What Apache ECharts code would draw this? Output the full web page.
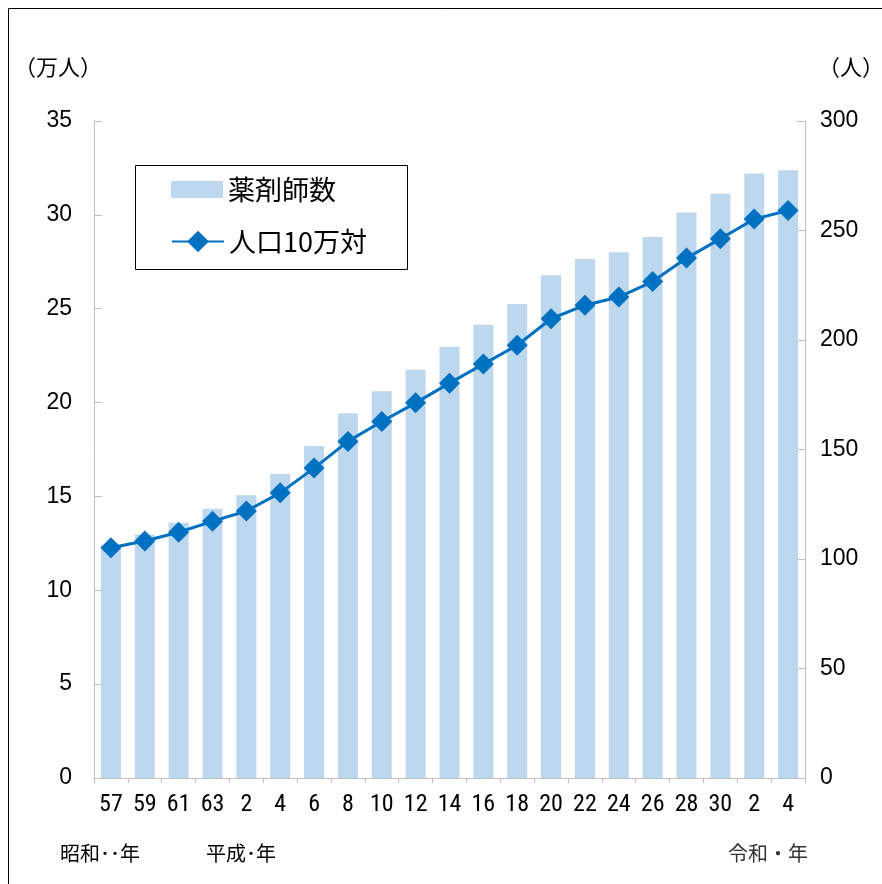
<!DOCTYPE html>
<html>
<head>
<meta charset="utf-8">
<script src="https://cdn.jsdelivr.net/npm/echarts@6/dist/echarts.min.js"></script>
<style>html,body{margin:0;padding:0;background:#fff;}#c{width:882px;height:884px;}</style>
</head>
<body>
<div id="c"></div>
<script>
var categories = ['57','59','61','63','2','4','6','8','10','12','14','16','18','20','22','24','26','28','30','2','4'];
var pharmacists = [12.4,12.97,13.6,14.34,15.06,16.2,17.69,19.43,20.6,21.75,22.97,24.14,25.25,26.78,27.65,28.01,28.82,30.13,31.13,32.2,32.37];
var per100k = [105.1,108.2,112.2,117.2,121.9,130.2,141.5,153.7,162.8,171.3,180.3,189.0,197.6,209.7,215.9,219.6,226.7,237.4,246.2,255.2,259.1];
var leftTicks = {min:0, max:35, interval:5};
var rightTicks = {min:0, max:300, interval:50};

var cjk = "'Noto Sans CJK JP', sans-serif";
var chart = echarts.init(document.getElementById('c'));
chart.setOption({
  animation:false,
  backgroundColor:'#fff',
  grid:{left:94, right:77, top:121, bottom:106},
  legend:[
    {orient:'vertical', left:171, top:176, padding:0,
     itemWidth:52, itemHeight:17, itemGap:5,
     textStyle:{fontFamily:cjk, fontSize:27, color:'#000'},
     data:[{name:'薬剤師数', icon:'rect'}]},
    {orient:'vertical', left:171, top:228, padding:0,
     itemWidth:52, itemHeight:27, itemGap:5,
     textStyle:{fontFamily:cjk, fontSize:27, color:'#000'},
     data:[{name:'人口10万対'}]}
  ],
  xAxis:{
    type:'category', data:categories,
    axisLine:{lineStyle:{color:'#bfbfbf'}},
    axisTick:{show:true, length:5, lineStyle:{color:'#bfbfbf'}},
    axisLabel:{interval:0, margin:15, color:'#000', fontSize:24, fontFamily:"'Liberation Sans Narrow', 'Roboto Condensed', 'Liberation Sans', sans-serif"}
  },
  yAxis:[
    {type:'value', min:leftTicks.min, max:leftTicks.max, interval:leftTicks.interval,
     axisLine:{show:true, lineStyle:{color:'#bfbfbf'}},
     axisTick:{show:true, inside:true, length:8, lineStyle:{color:'#bfbfbf'}},
     splitLine:{show:false},
     axisLabel:{margin:22, color:'#000', fontSize:23, fontFamily:"'Liberation Sans', Arial, sans-serif"}},
    {type:'value', min:rightTicks.min, max:rightTicks.max, interval:rightTicks.interval, position:'right',
     axisLine:{show:true, lineStyle:{color:'#bfbfbf'}},
     axisTick:{show:true, inside:true, length:8, lineStyle:{color:'#bfbfbf'}},
     splitLine:{show:false},
     axisLabel:{margin:15, color:'#000', fontSize:23, fontFamily:"'Liberation Sans', Arial, sans-serif"}}
  ],
  series:[
    {name:'薬剤師数', type:'bar', data:pharmacists, yAxisIndex:0, barWidth:20,
     itemStyle:{color:'#bdd7ee'}},
    {name:'人口10万対', type:'line', data:per100k, yAxisIndex:1,
     symbol:'diamond', symbolSize:21,
     lineStyle:{color:'#0070c0', width:3},
     itemStyle:{color:'#0070c0'}}
  ],
  graphic:[
    {type:'rect', shape:{x:8.5, y:8.5, width:1000, height:1000}, style:{fill:null, stroke:'#000', lineWidth:1}, silent:true},
    {type:'rect', shape:{x:135.5, y:165.5, width:272, height:104}, style:{fill:null, stroke:'#000', lineWidth:1}, silent:true},
    {type:'text', left:14, top:56, style:{text:'（万人）', font:"22px 'Noto Sans CJK JP'", fill:'#000'}},
    {type:'text', left:818, top:56, style:{text:'（人）', font:"22px 'Noto Sans CJK JP'", fill:'#000'}},
    {type:'text', left:60, top:843, style:{text:'昭和･･年', font:"20px 'Noto Sans CJK JP'", fill:'#000'}},
    {type:'text', left:206, top:843, style:{text:'平成･年', font:"20px 'Noto Sans CJK JP'", fill:'#000'}},
    {type:'text', left:728, top:843, style:{text:'令和・年', font:"20px 'Noto Sans CJK JP'", fill:'#333'}}
  ]
});
</script>
</body>
</html>
